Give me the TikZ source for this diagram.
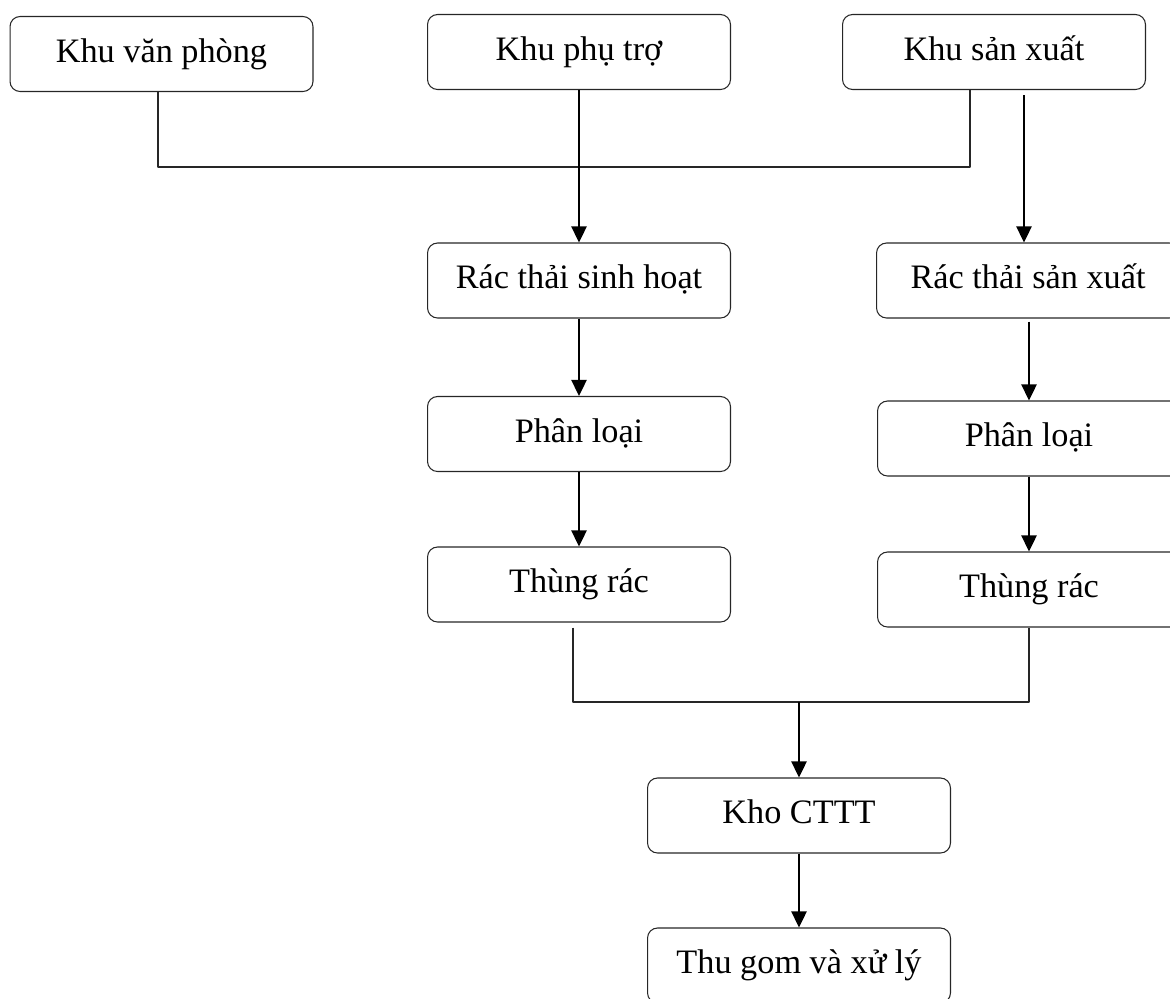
\documentclass[tikz,border=0pt]{standalone}
\usepackage{fontspec}
\setmainfont{Liberation Serif}
\usetikzlibrary{arrows.meta}
\begin{document}
\begin{tikzpicture}[x=0.02cm, y=-0.02cm, font=\fontsize{19.5pt}{23pt}\selectfont, line join=round,
	box/.style={draw=black!85, line width=0.6pt, rounded corners=0.2cm, minimum width=6.06cm, minimum height=1.5cm, inner sep=0pt, text height=14pt, text depth=4.4pt},
	ln/.style={draw=black!85, line width=0.6pt},
	arr/.style={line width=1.4pt, -{Triangle[width=0.3cm,length=0.32cm]}}]
	%%%%%%%%%%%%%%%%%%%%%%%%%%%%%%%%%
	\clip (0,0) rectangle (1170,998);
	\coordinate (M1) at (579,167);
	\coordinate (M2) at (799,702);
	%%%%%%%%%%%%%%%%%%%%%%%%%%%%%%%%%
	\node[box] (VP) at (161.5,54) {Khu văn phòng};
	\node[box] (PT) at (579,52) {Khu phụ trợ};
	\node[box] (SX) at (994,52) {Khu sản xuất};
	\node[box] (RSH) at (579,280.5) {Rác thải sinh hoạt};
	\node[box] (RSX) at (1028,280.5) {Rác thải sản xuất};
	\node[box] (PL1) at (579,434) {Phân loại};
	\node[box] (PL2) at (1029,438.5) {Phân loại};
	\node[box] (TR1) at (579,584.5) {Thùng rác};
	\node[box] (TR2) at (1029,589.5) {Thùng rác};
	\node[box] (KHO) at (799,815.5) {Kho CTTT};
	\node[box] (TG) at (799,965.5) {Thu gom và xử lý};
	%%%%%%%%%%%%%%%%%%%%%%%%%%%%%%%%%
	\coordinate (S0) at ([xshift=-0.07cm]VP.south);
	\coordinate (S1) at ([xshift=0.6cm,yshift=-0.1cm]SX.south);
	\coordinate (S2) at ([xshift=-0.48cm]SX.south);
	\coordinate (T1) at ([xshift=-0.12cm,yshift=-0.1cm]TR1.south);
	%%%%%%%%%%%%%%%%%%%%%%%%%%%%%%%%%
	\draw[ln] (S0) |- (M1) -| (S2);
	\draw[arr] (PT) -- (RSH);
	\draw[arr] (S1) -- (RSX.north -| S1);
	\draw[arr] (RSH) -- (PL1);
	\draw[arr] ([yshift=-0.06cm]RSX.south -| PL2.north) -- (PL2);
	\draw[arr] (PL1) -- (TR1);
	\draw[arr] (PL2) -- (TR2);
	\draw[ln] (T1) |- (M2) -| (TR2.south);
	\draw[arr] (M2) -- (KHO);
	\draw[arr] (KHO) -- (TG);
	%%%%%%%%%%%%%%%%%%%%%%%%%%%%%%%%%
\end{tikzpicture}
\end{document}
